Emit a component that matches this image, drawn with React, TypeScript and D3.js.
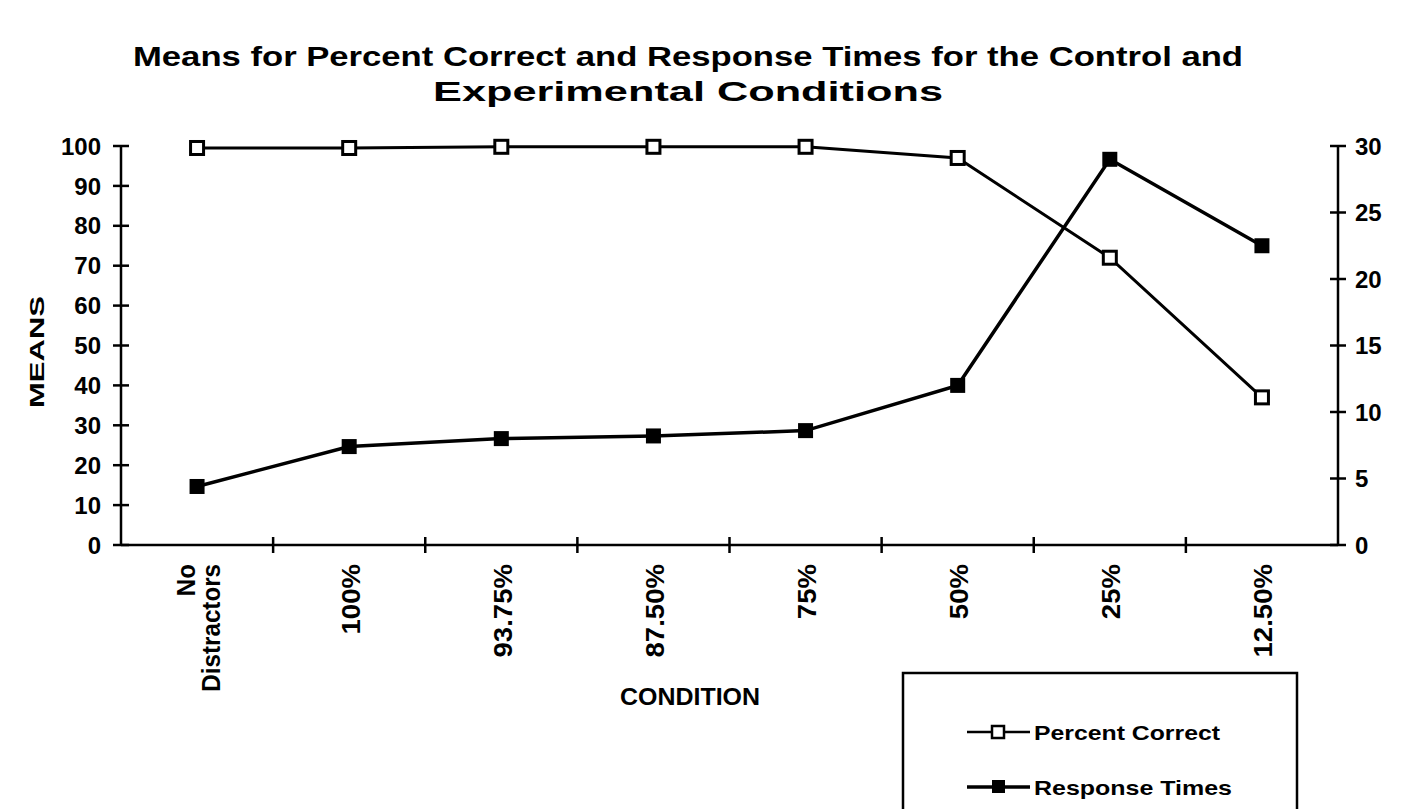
import React, { useEffect, useRef } from 'react';
import * as d3 from 'd3';

const conditions = ['No Distractors', '100%', '93.75%', '87.50%', '75%', '50%', '25%', '12.50%'];
const percentCorrect = [99.5, 99.5, 99.8, 99.8, 99.8, 97, 72, 37];
const responseTimes = [4.4, 7.4, 8.0, 8.2, 8.6, 12.0, 29.0, 22.5];
const leftTicks = [0, 10, 20, 30, 40, 50, 60, 70, 80, 90, 100];
const rightTicks = [0, 5, 10, 15, 20, 25, 30];

const App: React.FC = () => {
  const svgRef = useRef<SVGSVGElement>(null);

  useEffect(() => {
    if (!svgRef.current) return;
    const svg = d3.select(svgRef.current);
    svg.selectAll('*').remove();

    const font = "'Liberation Sans', Arial, sans-serif";
    const left = 121, right = 1338, top = 146, bottom = 545;

    const x = d3.scaleBand<string>().domain(conditions).range([left, right]);
    const yL = d3.scaleLinear().domain([0, 100]).range([bottom, top]);
    const yR = d3.scaleLinear().domain([0, 30]).range([bottom, top]);
    const cx = (c: string) => (x(c) as number) + x.bandwidth() / 2;

    // Title
    const title = svg.append('text')
      .attr('text-anchor', 'middle')
      .style('font-family', font)
      .style('font-weight', 'bold')
      .style('font-size', '27px');
    title.append('tspan').attr('x', 688).attr('y', 66)
      .attr('textLength', 1110).attr('lengthAdjust', 'spacingAndGlyphs')
      .text('Means for Percent Correct and Response Times for the Control and');
    title.append('tspan').attr('x', 688).attr('y', 101)
      .attr('textLength', 510).attr('lengthAdjust', 'spacingAndGlyphs')
      .text('Experimental Conditions');

    // Left axis
    const gl = svg.append('g');
    gl.append('line').attr('x1', left).attr('x2', left).attr('y1', top).attr('y2', bottom)
      .attr('stroke', '#000').attr('stroke-width', 2.5);
    leftTicks.forEach(t => {
      gl.append('line').attr('x1', left - 8).attr('x2', left + 8).attr('y1', yL(t)).attr('y2', yL(t))
        .attr('stroke', '#000').attr('stroke-width', 2.5);
      gl.append('text').attr('x', left - 20).attr('y', yL(t)).attr('dy', '0.36em')
        .attr('text-anchor', 'end')
        .style('font-family', font).style('font-weight', 'bold').style('font-size', '24px')
        .text(t);
    });

    // Right axis
    const gr = svg.append('g');
    gr.append('line').attr('x1', right).attr('x2', right).attr('y1', top).attr('y2', bottom)
      .attr('stroke', '#000').attr('stroke-width', 2.5);
    rightTicks.forEach(t => {
      gr.append('line').attr('x1', right - 8).attr('x2', right + 8).attr('y1', yR(t)).attr('y2', yR(t))
        .attr('stroke', '#000').attr('stroke-width', 2.5);
      gr.append('text').attr('x', right + 17).attr('y', yR(t)).attr('dy', '0.36em')
        .attr('text-anchor', 'start')
        .style('font-family', font).style('font-weight', 'bold').style('font-size', '24px')
        .text(t);
    });

    // X axis
    const gx = svg.append('g');
    gx.append('line').attr('x1', left).attr('x2', right).attr('y1', bottom).attr('y2', bottom)
      .attr('stroke', '#000').attr('stroke-width', 2.5);
    conditions.forEach((c, i) => {
      const xt = (x(c) as number) + x.bandwidth();
      if (i < conditions.length - 1) {
        gx.append('line').attr('x1', xt).attr('x2', xt).attr('y1', bottom - 8).attr('y2', bottom + 8)
          .attr('stroke', '#000').attr('stroke-width', 2.5);
      }
      const lines = c === 'No Distractors' ? ['No', 'Distractors'] : [c];
      const lbl = gx.append('text')
        .attr('transform', `translate(${cx(c) + 1},${bottom + 19}) rotate(-90)`)
        .attr('text-anchor', 'end')
        .style('font-family', font).style('font-weight', 'bold').style('font-size', '26px');
      lines.forEach((l, j) => {
        const off = (j - (lines.length - 1) / 2) * 25;
        const ts = lbl.append('tspan').attr('x', 0).attr('y', off).attr('dy', '0.36em').text(l);
        // source font: slightly wider digits, narrower lowercase
        const node = ts.node() as SVGTextContentElement;
        const w = node.getComputedTextLength();
        const k = /\d/.test(l) ? 1.06 : 0.93;
        ts.attr('textLength', w * k).attr('lengthAdjust', 'spacingAndGlyphs');
      });
    });

    // Axis titles
    svg.append('text')
      .attr('transform', `translate(36,352) rotate(-90)`)
      .attr('text-anchor', 'middle')
      .attr('dy', '0.36em')
      .attr('textLength', 112).attr('lengthAdjust', 'spacingAndGlyphs')
      .style('font-family', font).style('font-weight', 'bold').style('font-size', '21px')
      .text('MEANS');
    svg.append('text')
      .attr('x', 690).attr('y', 705)
      .attr('text-anchor', 'middle')
      .attr('textLength', 140).attr('lengthAdjust', 'spacingAndGlyphs')
      .style('font-family', font).style('font-weight', 'bold').style('font-size', '23px')
      .text('CONDITION');

    // Lines
    const lineL = d3.line<number>().x((d, i) => cx(conditions[i])).y(d => yL(d));
    const lineR = d3.line<number>().x((d, i) => cx(conditions[i])).y(d => yR(d));
    svg.append('path').datum(percentCorrect).attr('d', lineL)
      .attr('fill', 'none').attr('stroke', '#000').attr('stroke-width', 3);
    svg.append('path').datum(responseTimes).attr('d', lineR)
      .attr('fill', 'none').attr('stroke', '#000').attr('stroke-width', 3.5);

    const s = 13;
    svg.selectAll('.pc').data(percentCorrect).enter().append('rect')
      .attr('x', (d, i) => cx(conditions[i]) - s / 2)
      .attr('y', d => yL(d) - s / 2)
      .attr('width', s).attr('height', s)
      .attr('fill', '#fff').attr('stroke', '#000').attr('stroke-width', 3);
    svg.selectAll('.rt').data(responseTimes).enter().append('rect')
      .attr('x', (d, i) => cx(conditions[i]) - s / 2 - 1)
      .attr('y', d => yR(d) - s / 2 - 1)
      .attr('width', s + 2).attr('height', s + 2)
      .attr('fill', '#000');

    // Legend
    const lg = svg.append('g');
    lg.append('rect').attr('x', 903).attr('y', 673).attr('width', 394).attr('height', 150)
      .attr('fill', '#fff').attr('stroke', '#000').attr('stroke-width', 2.5);
    const entries = [
      { name: 'Percent Correct', y: 732, filled: false, len: 186 },
      { name: 'Response Times', y: 787, filled: true, len: 198 },
    ];
    entries.forEach(e => {
      lg.append('line').attr('x1', 967).attr('x2', 1030).attr('y1', e.y).attr('y2', e.y)
        .attr('stroke', '#000').attr('stroke-width', e.filled ? 3.5 : 2.5);
      if (e.filled) {
        lg.append('rect').attr('x', 992).attr('y', e.y - 7).attr('width', 13).attr('height', 13).attr('fill', '#000');
      } else {
        lg.append('rect').attr('x', 992).attr('y', e.y - 6).attr('width', 12).attr('height', 12)
          .attr('fill', '#fff').attr('stroke', '#000').attr('stroke-width', 2.5);
      }
      lg.append('text').attr('x', 1034).attr('y', e.y).attr('dy', '0.36em')
        .attr('textLength', e.len).attr('lengthAdjust', 'spacingAndGlyphs')
        .style('font-family', font).style('font-weight', 'bold').style('font-size', '21px')
        .text(e.name);
    });
  }, []);

  return (
    <svg ref={svgRef} width={1408} height={809}
      style={{ position: 'absolute', left: 0, top: 0, background: '#fff' }} />
  );
};

export default App;
